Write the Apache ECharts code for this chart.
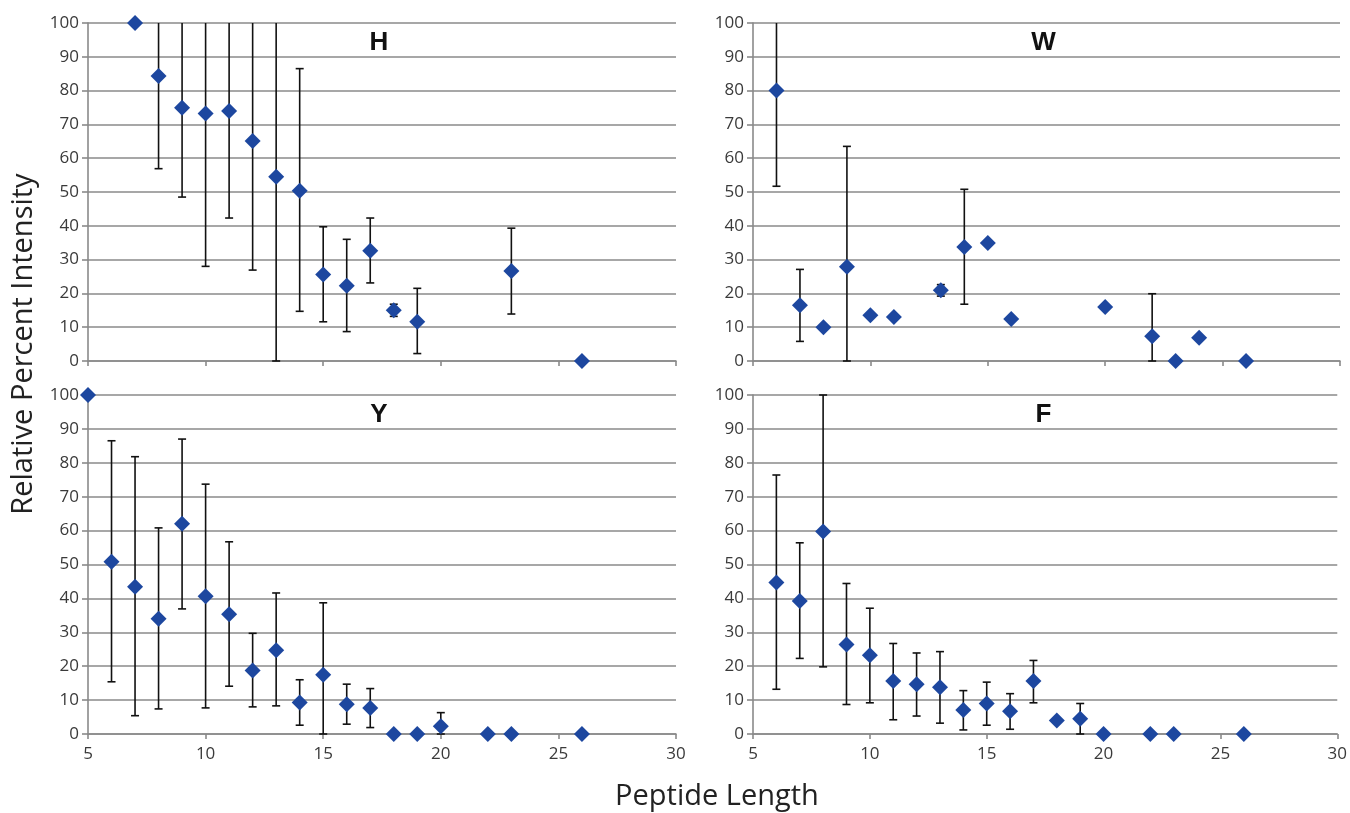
<!DOCTYPE html>
<html>
<head>
<meta charset="utf-8">
<script src="https://cdn.jsdelivr.net/npm/echarts@6/dist/echarts.min.js"></script>
<style>
  html, body { margin: 0; padding: 0; background: #fff; }
  #chart { width: 1350px; height: 813px; }
</style>
</head>
<body>
<div id="chart"></div>
<script>
  // 横轴刻度 / 纵轴刻度
  const xTicks = [5, 10, 15, 20, 25, 30];
  const yTicks = [0, 10, 20, 30, 40, 50, 60, 70, 80, 90, 100];

  // H
  const lenH = [7, 8, 9, 10, 11, 12, 13, 14, 15, 16, 17, 18, 19, 23, 26];
  const meanH = [100, 84.3, 74.9, 73.2, 74.0, 65.1, 54.5, 50.4, 25.6, 22.3, 32.6, 15.0, 11.6, 26.6, 0];
  const lowH = [null, 56.9, 48.5, 28.0, 42.3, 26.9, 0, 14.7, 11.6, 8.7, 23.1, 13.2, 2.2, 13.9, null];
  const highH = [null, 112, 101, 118, 106, 104, 110, 86.5, 39.7, 36.0, 42.3, 16.8, 21.5, 39.3, null];

  // W
  const lenW = [6, 7, 8, 9, 10, 11, 13, 14, 15, 16, 20, 22, 23, 24, 26];
  const meanW = [80, 16.5, 10, 27.9, 13.5, 13.0, 20.9, 33.7, 34.9, 12.4, 16.0, 7.3, 0, 6.9, 0];
  const lowW = [51.7, 5.8, null, 0, null, null, 19.2, 16.8, null, null, null, 0, null, null, null];
  const highW = [108, 27.1, null, 63.5, null, null, 22.6, 50.8, null, null, null, 19.9, null, null, null];

  // Y
  const lenY = [5, 6, 7, 8, 9, 10, 11, 12, 13, 14, 15, 16, 17, 18, 19, 20, 22, 23, 26];
  const meanY = [100, 50.8, 43.4, 34.0, 62.0, 40.6, 35.3, 18.7, 24.7, 9.3, 17.5, 8.8, 7.7, 0, 0, 2.3, 0, 0, 0];
  const lowY = [null, 15.4, 5.4, 7.4, 36.9, 7.7, 14.1, 8.0, 8.3, 2.6, 0, 2.9, 1.9, null, null, 0, null, null, null];
  const highY = [null, 86.5, 81.8, 60.8, 87.0, 73.7, 56.7, 29.7, 41.6, 16.0, 38.7, 14.7, 13.4, null, null, 6.3, null, null, null];

  // F
  const lenF = [6, 7, 8, 9, 10, 11, 12, 13, 14, 15, 16, 17, 18, 19, 20, 22, 23, 26];
  const meanF = [44.7, 39.2, 59.7, 26.4, 23.2, 15.6, 14.7, 13.8, 7.1, 9.0, 6.7, 15.6, 4.0, 4.5, 0, 0, 0, 0];
  const lowF = [13.2, 22.3, 19.8, 8.7, 9.2, 4.2, 5.3, 3.2, 1.2, 2.6, 1.4, 9.2, null, 0, null, null, null, null];
  const highF = [76.4, 56.4, 100, 44.4, 37.1, 26.7, 23.9, 24.3, 12.8, 15.3, 11.9, 21.7, null, 9.0, null, null, null, null];

  const panels = [
    { name: 'H', len: lenH, mean: meanH, low: lowH, high: highH },
    { name: 'W', len: lenW, mean: meanW, low: lowW, high: highW },
    { name: 'Y', len: lenY, mean: meanY, low: lowY, high: highY },
    { name: 'F', len: lenF, mean: meanF, low: lowF, high: highF }
  ];

  const grids = [
    { left: 88, top: 23, width: 588, height: 338 },
    { left: 753, top: 23, width: 587, height: 338 },
    { left: 88, top: 395, width: 588, height: 339 },
    { left: 753, top: 395, width: 587, height: 339 }
  ];

  const font = '"Open Sans", "Noto Sans", sans-serif';
  const gridColor = '#8a8a8a';
  const labelColor = '#3a3a3a';
  const markColor = '#1d479f';
  const yMin = yTicks[0], yMax = yTicks[yTicks.length - 1];

  // 误差线
  function renderErr(params, api) {
    const x = api.value(0), lo = api.value(1), hi = api.value(2);
    const top = Math.min(hi, yMax), bot = Math.max(lo, yMin);
    const p1 = api.coord([x, top]), p2 = api.coord([x, bot]);
    const st = { stroke: '#111', lineWidth: 1.6 };
    const cap = 4;
    const children = [{ type: 'line', shape: { x1: p1[0], y1: p1[1], x2: p2[0], y2: p2[1] }, style: st }];
    if (hi <= yMax) children.push({ type: 'line', shape: { x1: p1[0] - cap, y1: p1[1], x2: p1[0] + cap, y2: p1[1] }, style: st });
    if (lo >= yMin) children.push({ type: 'line', shape: { x1: p2[0] - cap, y1: p2[1], x2: p2[0] + cap, y2: p2[1] }, style: st });
    return { type: 'group', children };
  }

  const xAxis = [], yAxis = [], series = [], graphic = [];
  panels.forEach((p, i) => {
    const bottomRow = i >= 2;
    xAxis.push({
      type: 'value', gridIndex: i, min: xTicks[0], max: xTicks[xTicks.length - 1], interval: 5,
      axisLine: { show: true, onZero: false, lineStyle: { color: gridColor, width: 1.6 } },
      axisTick: { show: true, length: 5, lineStyle: { color: gridColor, width: 1.6 } },
      axisLabel: { show: bottomRow, fontSize: 17, color: labelColor, fontFamily: font, margin: 12 },
      splitLine: { show: false }
    });
    yAxis.push({
      type: 'value', gridIndex: i, min: yMin, max: yMax, interval: 10,
      axisLine: { show: true, lineStyle: { color: gridColor, width: 1.6 } },
      axisTick: { show: true, length: 6, lineStyle: { color: gridColor, width: 1.6 } },
      axisLabel: { fontSize: 17, color: labelColor, fontFamily: font, margin: 9 },
      splitLine: { show: true, lineStyle: { color: gridColor, width: 1.6 } }
    });
    const errData = [];
    p.len.forEach((x, k) => {
      if (p.low[k] != null) errData.push([x, p.low[k], p.high[k]]);
    });
    series.push({
      type: 'custom', xAxisIndex: i, yAxisIndex: i, renderItem: renderErr,
      data: errData, z: 2, silent: true, animation: false
    });
    series.push({
      type: 'scatter', xAxisIndex: i, yAxisIndex: i, symbol: 'diamond', symbolSize: 16,
      itemStyle: { color: markColor, opacity: 1 }, data: p.len.map((x, k) => [x, p.mean[k]]),
      z: 3, animation: false, clip: false
    });
    const g = grids[i];
    graphic.push({
      type: 'text', x: g.left + g.width * 0.5 - 3, y: g.top + 20,
      style: { text: p.name, font: 'bold 26px "Liberation Sans", Arial, sans-serif', fill: '#111', align: 'center', verticalAlign: 'middle' }
    });
  });

  graphic.push({
    type: 'text', x: 24, y: 344, rotation: Math.PI / 2,
    style: { text: 'Relative Percent Intensity', font: '29px ' + font, fill: '#222', align: 'center', verticalAlign: 'middle' }
  });
  graphic.push({
    type: 'text', x: 717, y: 797,
    style: { text: 'Peptide Length', font: '29px ' + font, fill: '#222', align: 'center', verticalAlign: 'middle' }
  });

  const chart = echarts.init(document.getElementById('chart'));
  chart.setOption({
    animation: false,
    grid: grids,
    xAxis: xAxis,
    yAxis: yAxis,
    series: series,
    graphic: graphic
  });
</script>
</body>
</html>
